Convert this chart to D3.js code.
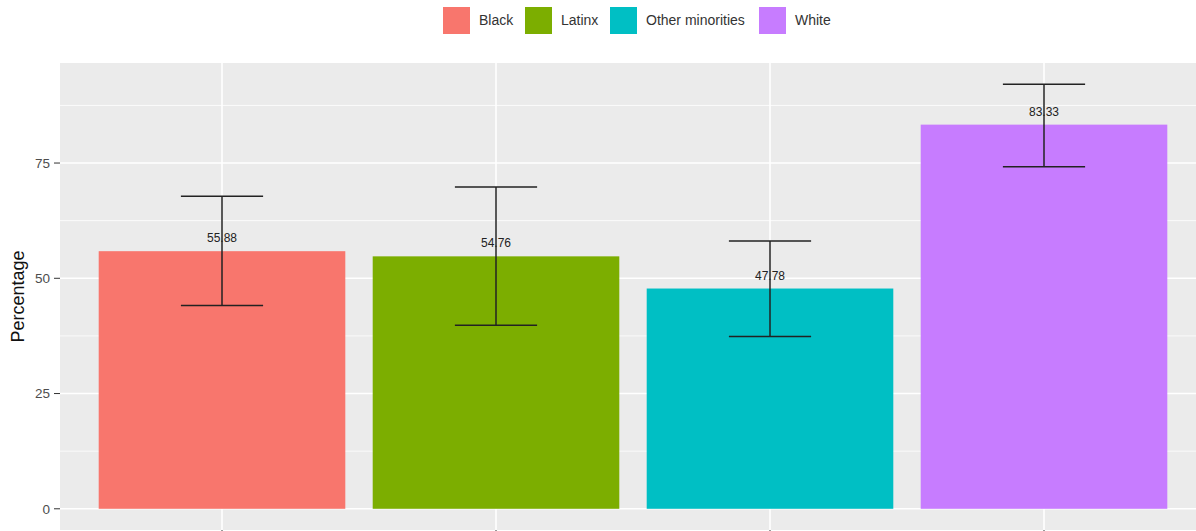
<!DOCTYPE html>
<html><head><meta charset="utf-8">
<script src="https://cdn.jsdelivr.net/npm/d3@7"></script>
<style>body{margin:0;background:#fff}svg{display:block}text{font-family:"Liberation Sans",Arial,sans-serif}</style>
</head><body><svg id="c" width="1196" height="531"></svg>
<script>
const categories = ["Black","Latinx","Other minorities","White"];
const values = [55.88, 54.76, 47.78, 83.33];
const lower = [44.1, 39.8, 37.4, 74.2];
const upper = [67.8, 69.8, 58.1, 92.1];
const colors = ["#F8766D","#7CAE00","#00BFC4","#C77CFF"];
const yTicks = [0,25,50,75];
const yMinor = [12.5,37.5,62.5,87.5];

const svg = d3.select("#c");
const panel = {left:60, top:63, right:1196, bottom:530};
const y = d3.scaleLinear().domain([-4.6, 96.7]).range([panel.bottom, panel.top]);
const x = d3.scaleBand().domain(categories).range([85, 1181]).padding(0);
const cx = c => x(c)+x.bandwidth()/2;

svg.append("rect").attr("x",panel.left).attr("y",panel.top).attr("width",panel.right-panel.left).attr("height",panel.bottom-panel.top).attr("fill","#EBEBEB");
const g = svg.append("g");
yMinor.forEach(v=>g.append("line").attr("x1",panel.left).attr("x2",panel.right).attr("y1",y(v)).attr("y2",y(v)).attr("stroke","#fff").attr("stroke-width",0.8));
yTicks.forEach(v=>g.append("line").attr("x1",panel.left).attr("x2",panel.right).attr("y1",y(v)).attr("y2",y(v)).attr("stroke","#fff").attr("stroke-width",1.6));
categories.forEach(c=>g.append("line").attr("x1",cx(c)).attr("x2",cx(c)).attr("y1",panel.top).attr("y2",panel.bottom).attr("stroke","#fff").attr("stroke-width",1.6));

const bw = x.bandwidth()*0.9;
svg.selectAll("rect.bar").data(categories).join("rect").attr("class","bar")
  .attr("x",c=>cx(c)-bw/2).attr("width",bw)
  .attr("y",(c,i)=>y(values[i])).attr("height",(c,i)=>y(0)-y(values[i]))
  .attr("fill",(c,i)=>colors[i]);

svg.selectAll("text.lab").data(categories).join("text").attr("class","lab")
  .attr("x",c=>cx(c)).attr("y",(c,i)=>y(values[i])-9)
  .attr("text-anchor","middle").attr("font-size",12).attr("fill","#222")
  .text((c,i)=>values[i].toFixed(2));

const ew = x.bandwidth()*0.3;
categories.forEach((c,i)=>{
  const e = svg.append("g").attr("stroke","#222").attr("stroke-width",1.5);
  e.append("line").attr("x1",cx(c)).attr("x2",cx(c)).attr("y1",y(upper[i])).attr("y2",y(lower[i]));
  e.append("line").attr("x1",cx(c)-ew/2).attr("x2",cx(c)+ew/2).attr("y1",y(upper[i])).attr("y2",y(upper[i]));
  e.append("line").attr("x1",cx(c)-ew/2).attr("x2",cx(c)+ew/2).attr("y1",y(lower[i])).attr("y2",y(lower[i]));
});

// y axis
yTicks.forEach(v=>{
  svg.append("line").attr("x1",panel.left-6).attr("x2",panel.left).attr("y1",y(v)).attr("y2",y(v)).attr("stroke","#333").attr("stroke-width",1);
  svg.append("text").attr("x",panel.left-10).attr("y",y(v)).attr("dy","0.35em").attr("text-anchor","end").attr("font-size",13.5).attr("fill","#4D4D4D").text(v);
});
categories.forEach(c=>svg.append("line").attr("x1",cx(c)).attr("x2",cx(c)).attr("y1",panel.bottom).attr("y2",panel.bottom+6).attr("stroke","#333"));
svg.append("text").attr("transform",`translate(24,${(panel.top+panel.bottom)/2}) rotate(-90)`).attr("text-anchor","middle").attr("font-size",18).attr("fill","#111").text("Percentage");

// legend
const legX = [443,525,610,759];
categories.forEach((c,i)=>{
  svg.append("rect").attr("x",legX[i]).attr("y",7).attr("width",27).attr("height",27).attr("fill",colors[i]);
  svg.append("text").attr("x",legX[i]+36).attr("y",20.5).attr("dy","0.35em").attr("font-size",14).attr("fill","#333").text(c);
});
</script></body></html>
